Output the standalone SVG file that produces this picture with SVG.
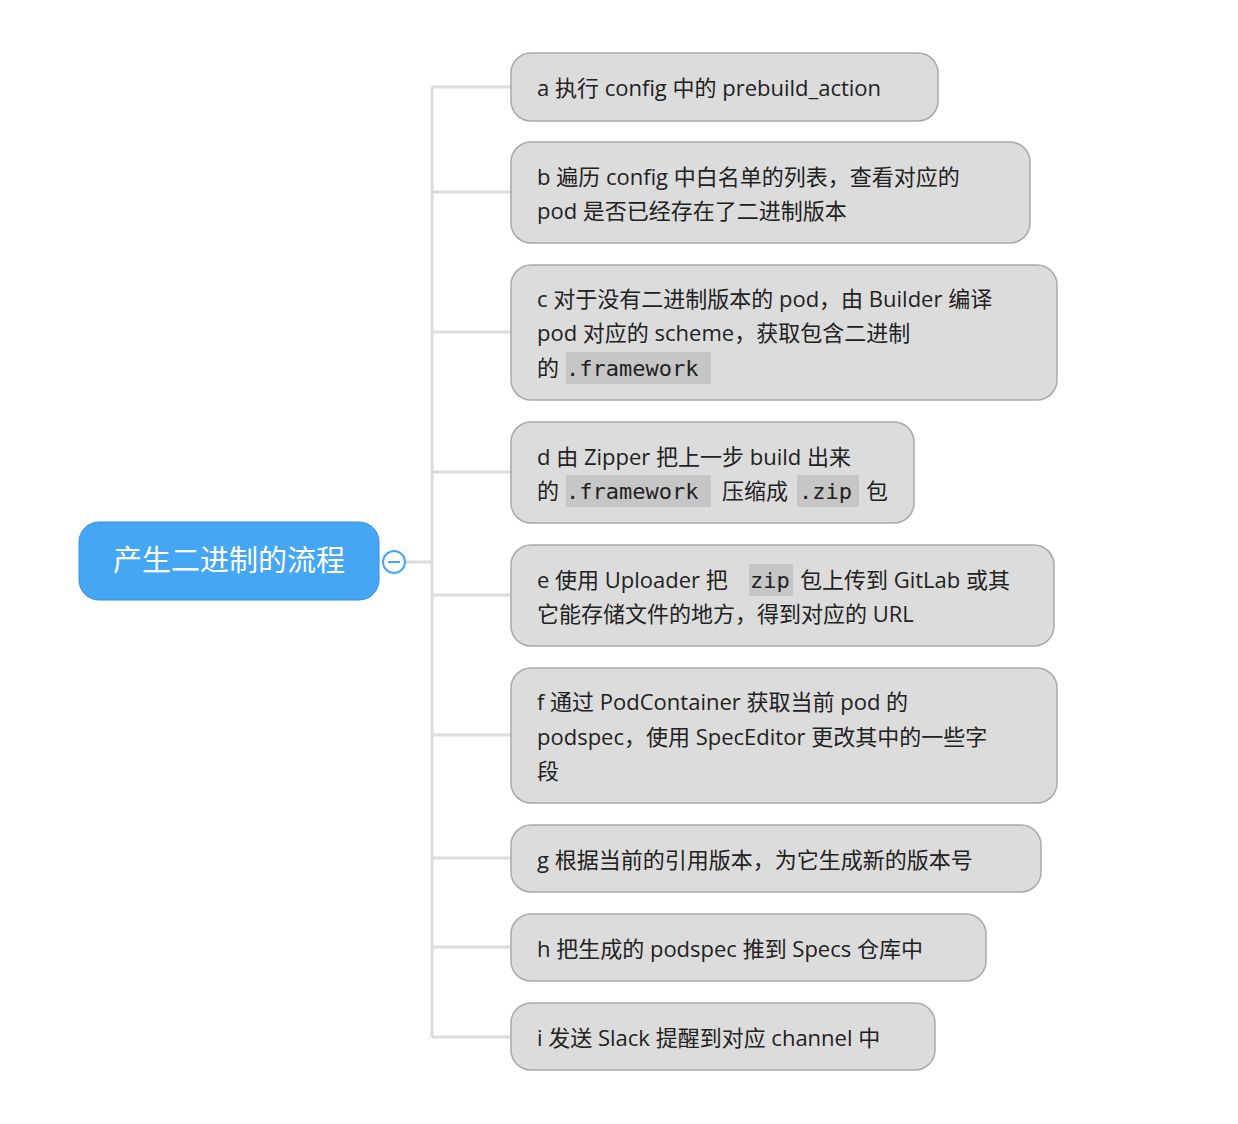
<svg xmlns="http://www.w3.org/2000/svg" width="1238" height="1124" viewBox="0 0 1238 1124">
<style>
.n{fill:#dcdcdc;stroke:#a9a9a9;stroke-width:1.5}
.t{font-family:"Open Sans","Noto Sans CJK SC",sans-serif;font-size:22px;fill:#222}
.m{font-family:"DejaVu Sans Mono","Noto Sans CJK SC",monospace;font-size:22px}
.cb{fill:#c6c6c6}
.c{stroke:#dcdcdc;stroke-width:3;fill:none}
</style>
<rect width="1238" height="1124" fill="#fff"/>
<g id="connectors">
<path class="c" d="M405 562H432M432 87V1037M432 87H511M432 192H511M432 332H511M432 472H511M432 595H511M432 735H511M432 858H511M432 947H511M432 1037H511"/>
</g>
<g id="root">
<rect x="79" y="522" width="300" height="78" rx="20" fill="#45a7f4" stroke="#3a8fd8"/>
<text x="229" y="571" text-anchor="middle" font-family="'Noto Sans CJK SC',sans-serif" font-size="29" fill="#fff">产生二进制的流程</text>
<circle cx="394" cy="562" r="11" fill="#fff" stroke="#45a7f4" stroke-width="2"/>
<path d="M388 562H400" stroke="#45a7f4" stroke-width="2"/>
</g>
<g id="a"><rect class="n" x="511" y="53" width="427" height="68" rx="20"/>
<text class="t" x="537" y="96">a 执行 config 中的 prebuild_action</text></g>
<g id="b"><rect class="n" x="511" y="142" width="519" height="101" rx="20"/>
<text class="t" x="537" y="185">b 遍历 config 中白名单的列表，查看对应的</text>
<text class="t" x="537" y="219">pod 是否已经存在了二进制版本</text></g>
<g id="c"><rect class="n" x="511" y="265" width="546" height="135" rx="20"/>
<rect class="cb" x="566" y="352" width="145" height="32"/>
<text class="t" x="537" y="307">c 对于没有二进制版本的 pod，由 Builder 编译</text>
<text class="t" x="537" y="341">pod 对应的 scheme，获取包含二进制</text>
<text class="t" x="537" y="376">的 <tspan class="m" x="566">.framework</tspan></text></g>
<g id="d"><rect class="n" x="511" y="422" width="403" height="101" rx="20"/>
<rect class="cb" x="566" y="475" width="145" height="32"/>
<rect class="cb" x="797" y="475" width="62" height="32"/>
<text class="t" x="537" y="465">d 由 Zipper 把上一步 build 出来</text>
<text class="t" x="537" y="499">的 <tspan class="m" x="566">.framework</tspan><tspan x="722">压缩成 </tspan><tspan class="m" x="799">.zip</tspan><tspan x="866">包</tspan></text></g>
<g id="e"><rect class="n" x="511" y="545" width="543" height="101" rx="20"/>
<rect class="cb" x="749" y="564" width="44" height="32"/>
<text class="t" x="537" y="588">e 使用 Uploader 把 <tspan class="m" x="750">zip</tspan><tspan x="800">包上传到 GitLab 或其</tspan></text>
<text class="t" x="537" y="622">它能存储文件的地方，得到对应的 URL</text></g>
<g id="f"><rect class="n" x="511" y="668" width="546" height="135" rx="20"/>
<text class="t" x="537" y="710">f 通过 PodContainer 获取当前 pod 的</text>
<text class="t" x="537" y="745">podspec，使用 SpecEditor 更改其中的一些字</text>
<text class="t" x="537" y="779">段</text></g>
<g id="g"><rect class="n" x="511" y="825" width="530" height="67" rx="20"/>
<text class="t" x="537" y="868">g 根据当前的引用版本，为它生成新的版本号</text></g>
<g id="h"><rect class="n" x="511" y="914" width="475" height="67" rx="20"/>
<text class="t" x="537" y="957">h 把生成的 podspec 推到 Specs 仓库中</text></g>
<g id="i"><rect class="n" x="511" y="1003" width="424" height="67" rx="20"/>
<text class="t" x="537" y="1046">i 发送 Slack 提醒到对应 channel 中</text></g>
</svg>
